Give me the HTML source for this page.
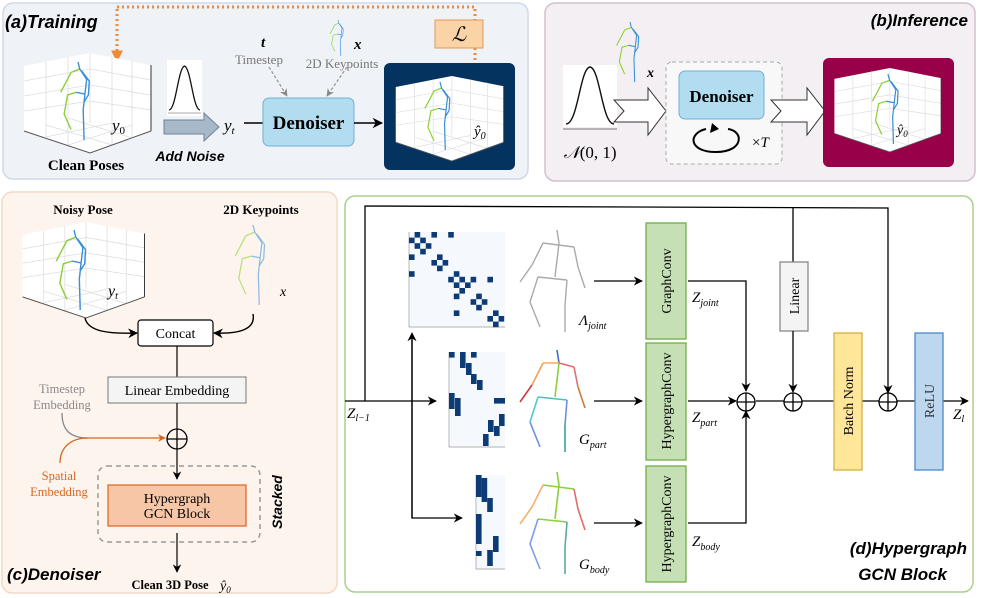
<!DOCTYPE html>
<html><head><meta charset="utf-8"><style>
body{margin:0;background:#fff}
svg{display:block}
.s{font-family:"Liberation Serif",serif}
.t{font-family:"Liberation Sans",sans-serif;font-weight:bold;font-style:italic}
</style></head><body>
<svg width="996" height="598" viewBox="0 0 996 598" xmlns="http://www.w3.org/2000/svg">
<defs>
<marker id="ab" viewBox="0 0 10 10" refX="9" refY="5" markerWidth="7" markerHeight="7" orient="auto-start-reverse"><path d="M0,0 L10,5 L0,10 L3,5z" fill="#000"/></marker>
<marker id="ag" viewBox="0 0 10 10" refX="9" refY="5" markerWidth="6" markerHeight="6" orient="auto"><path d="M0,0 L10,5 L0,10 L3,5z" fill="#888"/></marker>
<marker id="ao" viewBox="0 0 10 10" refX="9" refY="5" markerWidth="6" markerHeight="6" orient="auto"><path d="M0,0 L10,5 L0,10 L3,5z" fill="#d9661f"/></marker>
<marker id="aor" viewBox="0 0 10 10" refX="8" refY="5" markerWidth="4" markerHeight="4" orient="auto"><path d="M0,0 L10,5 L0,10z" fill="#ee8a3a"/></marker>
<symbol id="cube" viewBox="0 0 130 100" overflow="visible">
<polygon points="0,13 66,0 127,12 127,78 66,100 0,78" fill="#fff"/>
<g stroke="#ddd" stroke-width="0.8" fill="none">
<path d="M0,28 L66,16 L127,27 M0,43 L66,32 L127,42 M0,58 L66,48 L127,57 M22,9 L22,84 M44,4 L44,92 M88,4 L88,92 M108,8 L108,85 M66,0 L66,70"/>
<path d="M22,84 L88,70 M44,92 L108,72 M22,72 L88,92 M44,65 L108,85"/>
</g>
<path d="M0,78 L66,100 L127,78" fill="none" stroke="#555" stroke-width="1"/>
<path d="M127,12 L127,78" stroke="#333" stroke-width="1"/>
</symbol>
<symbol id="sk" viewBox="0 0 40 90" overflow="visible">
<path d="M22,8 L12,12 L0,35 M18,35 L8,38 L4,60 L12,78" fill="none" stroke="#8bcf3a" stroke-width="1.6"/>
<path d="M20,0 L22,8 L30,20 L28,37 L18,35 M28,37 L26,55 L27,90 M24,10 L33,22 L32,38 L27,46" fill="none" stroke="#3a8fd6" stroke-width="1.6"/>
</symbol>
<symbol id="sk2" viewBox="0 0 40 90" overflow="visible">
<path d="M22,8 L12,12 L0,35 M18,35 L8,38 L4,60 L12,78" fill="none" stroke="#b9e07a" stroke-width="1.4"/>
<path d="M20,0 L22,8 L30,20 L28,37 L18,35 M28,37 L26,55 L27,90 M24,10 L33,22 L32,38 L27,46" fill="none" stroke="#8dbbe6" stroke-width="1.4"/>
</symbol>
</defs>

<!-- Panel A -->
<rect x="3" y="3" width="525" height="176" rx="10" fill="#eff3f8" stroke="#cfd9e8" stroke-width="1.5"/>
<text x="5" y="28" class="t" font-size="18">(a)Training</text>
<path d="M117,9 L117,60" stroke="#ee8a3a" stroke-width="3" stroke-dasharray="2,3" fill="none" marker-end="url(#aor)"/>
<path d="M117,7 L475,7 L475,20" stroke="#ee8a3a" stroke-width="3" stroke-dasharray="2,3" fill="none"/>
<path d="M475,48 L475,73" stroke="#ee8a3a" stroke-width="3" stroke-dasharray="2,3" fill="none" marker-end="url(#aor)"/>
<rect x="435" y="20" width="48" height="28" fill="#fad3a6" stroke="#e09a55"/>
<text x="459" y="41" class="s" font-size="20" font-style="italic" text-anchor="middle">ℒ</text>
<use href="#cube" x="24" y="53" width="130" height="100"/>
<use href="#sk" x="58" y="62" width="40" height="78"/>
<text x="112" y="131" class="s" font-size="17" font-style="italic">y<tspan font-size="11" font-style="normal" dy="3">0</tspan></text>
<text x="86" y="170" class="s" font-size="15" font-weight="bold" text-anchor="middle">Clean Poses</text>
<rect x="167" y="60" width="35" height="56" fill="#fff"/>
<path d="M169,110 C176,110 178,68 184.5,66 C191,68 193,110 200,110" fill="none" stroke="#111" stroke-width="1.3"/>
<line x1="168" y1="113" x2="201" y2="113" stroke="#aaa"/>
<polygon points="164,120 204,120 204,113 219,127 204,141 204,134 164,134" fill="#a7b8c9" stroke="#6f8296"/>
<text x="190" y="161" class="t" font-size="14" text-anchor="middle">Add Noise</text>
<text x="224" y="131" class="s" font-size="17" font-style="italic">y<tspan font-size="11" dy="3">t</tspan></text>
<line x1="244" y1="123" x2="263" y2="123" stroke="#000" stroke-width="1.5"/>
<rect x="263" y="98" width="91" height="48" rx="6" fill="#b2dcf0" stroke="#6fb0d6"/>
<text x="308.5" y="129" class="s" font-size="19" font-weight="bold" text-anchor="middle">Denoiser</text>
<line x1="354" y1="123" x2="382" y2="123" stroke="#000" stroke-width="1.5" marker-end="url(#ab)"/>
<text x="261" y="47" class="s" font-size="15" font-style="italic" font-weight="bold">t</text>
<text x="259" y="64" class="s" font-size="13" fill="#777" text-anchor="middle">Timestep</text>
<use href="#sk" x="328" y="20" width="20" height="36"/>
<text x="354" y="49" class="s" font-size="15" font-style="italic" font-weight="bold">x</text>
<text x="342" y="68" class="s" font-size="13" fill="#777" text-anchor="middle">2D Keypoints</text>
<line x1="269" y1="67" x2="287" y2="96" stroke="#999" stroke-width="1.3" stroke-dasharray="3,2" marker-end="url(#ag)"/>
<line x1="347" y1="67" x2="327" y2="96" stroke="#999" stroke-width="1.3" stroke-dasharray="3,2" marker-end="url(#ag)"/>
<rect x="384" y="63" width="131" height="107" rx="6" fill="#05335f"/>
<use href="#cube" x="392" y="76" width="118" height="85"/>
<use href="#sk" x="422" y="82" width="36" height="68"/>
<text x="474" y="136" class="s" font-size="15" font-style="italic">ŷ<tspan font-size="10" dy="3">0</tspan></text>

<!-- Panel B -->
<rect x="545" y="3" width="430" height="178" rx="10" fill="#f4eff2" stroke="#d2bfd0" stroke-width="1.5"/>
<text x="968" y="26" class="t" font-size="17" text-anchor="end">(b)Inference</text>
<rect x="563" y="65" width="54" height="62" fill="#fff"/>
<path d="M566,124 C578,124 580,68 590,67 C600,68 602,124 614,124" fill="none" stroke="#111" stroke-width="1.4"/>
<line x1="563" y1="129" x2="617" y2="129" stroke="#777"/>
<text x="590" y="158" class="s" font-size="17" text-anchor="middle"><tspan font-style="italic">𝒩</tspan>(0, 1)</text>
<use href="#sk" x="613" y="22" width="34" height="60"/>
<text x="647" y="77" class="s" font-size="14" font-style="italic" font-weight="bold">x</text>
<polygon points="614,100 648,100 648,88 666,111 648,135 648,122 614,122 624,111" fill="#fff" stroke="#333"/>
<rect x="666" y="62" width="116" height="102" rx="6" fill="#f8f8f8" stroke="#aaa" stroke-dasharray="4,3"/>
<rect x="679" y="71" width="85" height="48" rx="6" fill="#b2dcf0" stroke="#6fb0d6"/>
<text x="721.5" y="102" class="s" font-size="17" font-weight="bold" text-anchor="middle">Denoiser</text>
<path d="M706,129 C688,133 688,152 716,152 C744,152 744,131 728,129" fill="none" stroke="#000" stroke-width="2"/>
<path d="M712,123 L719,129 L710,133z" fill="#000"/>
<text x="752" y="147" class="s" font-size="15">×<tspan font-style="italic">T</tspan></text>
<polygon points="771,100 807,100 807,88 825,111 807,135 807,122 771,122 781,111" fill="#fff" stroke="#333"/>
<rect x="823" y="58" width="131" height="109" rx="6" fill="#99004a"/>
<use href="#cube" x="829" y="68" width="120" height="84"/>
<use href="#sk" x="870" y="74" width="36" height="70"/>
<text x="897" y="134" class="s" font-size="14" font-style="italic">ŷ<tspan font-size="9" dy="3">0</tspan></text>

<!-- Panel C -->
<rect x="2" y="192" width="335" height="401" rx="10" fill="#fdf4ee" stroke="#f3d9c6" stroke-width="1.5"/>
<text x="83" y="214" class="s" font-size="13" font-weight="bold" text-anchor="middle">Noisy Pose</text>
<text x="261" y="214" class="s" font-size="13" font-weight="bold" text-anchor="middle">2D Keypoints</text>
<use href="#cube" x="22" y="222" width="126" height="96"/>
<use href="#sk" x="54" y="230" width="40" height="80"/>
<text x="108" y="296" class="s" font-size="16" font-style="italic">y<tspan font-size="10" dy="3">t</tspan></text>
<use href="#sk2" x="231" y="225" width="44" height="80"/>
<text x="280" y="296" class="s" font-size="14" font-style="italic">x</text>
<path d="M85,318 C88,332 110,334 137,333" fill="none" stroke="#000" stroke-width="1.4" marker-end="url(#ab)"/>
<path d="M253,314 C256,330 238,334 214,333" fill="none" stroke="#000" stroke-width="1.4" marker-end="url(#ab)"/>
<rect x="138" y="320" width="75" height="26" rx="3" fill="#fff" stroke="#000" stroke-width="1.2"/>
<text x="175.5" y="338" class="s" font-size="14" text-anchor="middle">Concat</text>
<line x1="177" y1="346" x2="177" y2="377" stroke="#000" stroke-width="1.2"/>
<rect x="108" y="377" width="138" height="26" fill="#f4f4f4" stroke="#777"/>
<text x="177" y="395" class="s" font-size="14" text-anchor="middle">Linear Embedding</text>
<line x1="177" y1="403" x2="177" y2="429" stroke="#000" stroke-width="1.2"/>
<circle cx="177" cy="439" r="10" fill="none" stroke="#000" stroke-width="1.3"/>
<path d="M167,439 H187 M177,429 V449" stroke="#000" stroke-width="1.3"/>
<text x="62" y="393" class="s" font-size="12.5" fill="#888" text-anchor="middle">Timestep</text>
<text x="62" y="409" class="s" font-size="12.5" fill="#888" text-anchor="middle">Embedding</text>
<path d="M62,413 C62,430 70,438 88,438" fill="none" stroke="#888" stroke-width="1.3"/>
<path d="M60,463 C60,448 70,438 88,438 L165,438" fill="none" stroke="#d9661f" stroke-width="1.3" marker-end="url(#ao)"/>
<text x="59" y="480" class="s" font-size="12.5" fill="#d9661f" text-anchor="middle">Spatial</text>
<text x="59" y="496" class="s" font-size="12.5" fill="#d9661f" text-anchor="middle">Embedding</text>
<rect x="98" y="466" width="162" height="76" rx="9" fill="none" stroke="#999" stroke-width="1.5" stroke-dasharray="5,4"/>
<line x1="177" y1="449" x2="177" y2="479" stroke="#000" stroke-width="1.2" marker-end="url(#ab)"/>
<rect x="108" y="485" width="138" height="41" fill="#f7c6a6" stroke="#d9661f" stroke-width="1.2"/>
<text x="177" y="503" class="s" font-size="14" text-anchor="middle">Hypergraph</text>
<text x="177" y="518" class="s" font-size="14" text-anchor="middle">GCN Block</text>
<text transform="translate(282,502) rotate(-90)" class="t" font-size="14" text-anchor="middle">Stacked</text>
<line x1="177" y1="533" x2="177" y2="572" stroke="#000" stroke-width="1.2" marker-end="url(#ab)"/>
<text x="7" y="580" class="t" font-size="17">(c)Denoiser</text>
<text x="170" y="589" class="s" font-size="12.5" font-weight="bold" text-anchor="middle">Clean 3D Pose</text>
<text x="220" y="590" class="s" font-size="14" font-style="italic">ŷ<tspan font-size="9" dy="3">0</tspan></text>

<!-- Panel D -->
<rect x="345" y="196" width="628" height="396" rx="10" fill="#fff" stroke="#a9d18e" stroke-width="1.5"/>
<path d="M365,401 V206 L888,208 V393" fill="none" stroke="#000" stroke-width="1.3" marker-end="url(#ab)"/>
<line x1="345" y1="401" x2="436" y2="401" stroke="#000" stroke-width="1.3" marker-end="url(#ab)"/>
<path d="M412,340 V518 H462" fill="none" stroke="#000" stroke-width="1.3" marker-end="url(#ab)"/>
<path d="M412,518 V333" fill="none" stroke="#000" stroke-width="1.3" marker-end="url(#ab)"/>
<text x="347" y="418" class="s" font-size="15" font-style="italic">Z<tspan font-size="10" dy="3">l−1</tspan></text>
<!-- matrices -->
<g>
<rect x="409" y="232" width="96" height="95" fill="#f5f9fe"/>
<path d="M409,232 V327 H505" fill="none" stroke="#999" stroke-width="0.7"/>
<g fill="#0c3b75">
<rect x="414.6" y="232" width="5.6" height="5.6"/><rect x="431.4" y="232" width="5.6" height="5.6"/><rect x="448.2" y="232" width="5.6" height="5.6"/>
<rect x="409" y="237.6" width="5.6" height="5.6"/><rect x="420.2" y="237.6" width="5.6" height="5.6"/>
<rect x="414.6" y="243.2" width="5.6" height="5.6"/><rect x="425.8" y="243.2" width="5.6" height="5.6"/>
<rect x="420.2" y="248.8" width="5.6" height="5.6"/>
<rect x="409" y="254.4" width="5.6" height="5.6"/><rect x="437" y="254.4" width="5.6" height="5.6"/>
<rect x="431.4" y="260" width="5.6" height="5.6"/><rect x="442.6" y="260" width="5.6" height="5.6"/>
<rect x="437" y="265.6" width="5.6" height="5.6"/>
<rect x="409" y="271.2" width="5.6" height="5.6"/><rect x="453.8" y="271.2" width="5.6" height="5.6"/>
<rect x="448.2" y="276.8" width="5.6" height="5.6"/><rect x="459.4" y="276.8" width="5.6" height="5.6"/><rect x="470.6" y="276.8" width="5.6" height="5.6"/><rect x="487.4" y="276.8" width="5.6" height="5.6"/>
<rect x="453.8" y="282.4" width="5.6" height="5.6"/><rect x="465" y="282.4" width="5.6" height="5.6"/>
<rect x="459.4" y="288" width="5.6" height="5.6"/>
<rect x="453.8" y="293.6" width="5.6" height="5.6"/><rect x="476.2" y="293.6" width="5.6" height="5.6"/>
<rect x="470.6" y="299.2" width="5.6" height="5.6"/><rect x="481.8" y="299.2" width="5.6" height="5.6"/>
<rect x="476.2" y="304.8" width="5.6" height="5.6"/>
<rect x="453.8" y="310.4" width="5.6" height="5.6"/><rect x="493" y="310.4" width="5.6" height="5.6"/>
<rect x="487.4" y="316" width="5.6" height="5.6"/><rect x="498.6" y="316" width="5.6" height="5.6"/>
<rect x="493" y="321.6" width="5.6" height="5.6"/>
</g>
<rect x="449" y="352" width="56" height="95" fill="#f5f9fe"/>
<path d="M449,352 V447 H505" fill="none" stroke="#999" stroke-width="0.7"/>
<g fill="#0c3b75">
<rect x="449" y="352" width="5.6" height="5.6"/><rect x="460" y="352" width="5.6" height="16"/><rect x="471" y="352" width="5.6" height="5.6"/>
<rect x="466" y="363" width="5.6" height="12"/><rect x="471" y="374" width="5.6" height="10"/><rect x="477" y="380" width="5.6" height="10"/>
<rect x="449" y="393" width="5.6" height="16"/><rect x="455" y="398" width="5.6" height="18"/><rect x="494" y="398" width="11" height="5.6"/>
<rect x="499" y="414" width="5.6" height="12"/><rect x="488" y="420" width="5.6" height="12"/><rect x="494" y="426" width="5.6" height="10"/><rect x="483" y="434" width="5.6" height="12"/>
</g>
<rect x="476" y="475" width="29" height="94" fill="#f5f9fe"/>
<path d="M476,475 V569 H505" fill="none" stroke="#999" stroke-width="0.7"/>
<g fill="#0c3b75">
<rect x="476" y="475" width="5.6" height="22"/><rect x="481.6" y="478" width="5.6" height="24"/><rect x="487.2" y="498" width="5.6" height="14"/>
<rect x="476" y="514" width="5.6" height="30"/><rect x="493" y="536" width="5.6" height="16"/><rect x="476" y="551" width="5.6" height="5"/><rect x="487.2" y="550" width="5.6" height="16"/>
</g>
</g>
<!-- skeletons -->
<g transform="translate(519,230)" fill="none" stroke="#aaa" stroke-width="1.4">
<path d="M38,0 L40,13 L36,47 M24,13 L55,17 M24,13 L13,35 L1,52 M55,17 L59,37 L66,58 M19,47 L48,50 M19,47 L11,72 L21,97 M48,50 L46,75 L46,102"/>
</g>
<g transform="translate(519,350)" fill="none" stroke-width="1.6">
<path d="M38,0 L40,13" stroke="#3a6fd0"/><path d="M40,13 L36,47" stroke="#8bcf3a"/>
<path d="M24,13 L40,13" stroke="#f3b070"/><path d="M40,13 L55,17" stroke="#e26a6a"/>
<path d="M24,13 L13,35" stroke="#f3a050"/><path d="M13,35 L1,52" stroke="#c04040"/>
<path d="M55,17 L59,37" stroke="#e07070"/><path d="M59,37 L66,58" stroke="#c08040"/>
<path d="M19,47 L48,50" stroke="#4ac0c0"/><path d="M19,47 L11,72" stroke="#50c8c8"/><path d="M11,72 L21,97" stroke="#6a90e0"/>
<path d="M48,50 L46,75" stroke="#6a90e0"/><path d="M46,75 L46,102" stroke="#3aa0a0"/>
</g>
<g transform="translate(519,472)" fill="none" stroke-width="1.6">
<path d="M38,0 L40,13 L36,47 M24,13 L55,17 M19,47 L48,50" stroke="#8bcf3a"/>
<path d="M24,13 L13,35 L1,52" stroke="#f3b070"/><path d="M55,17 L59,37 L66,58" stroke="#e26a6a"/>
<path d="M19,47 L11,72 L21,97" stroke="#7aa0e8"/><path d="M48,50 L46,75 L46,102" stroke="#5aaaa0"/>
</g>
<text x="579" y="325" class="s" font-size="15" font-style="italic">Λ<tspan font-size="10" dy="4">joint</tspan></text>
<text x="579" y="444" class="s" font-size="15" font-style="italic">G<tspan font-size="10" dy="4">part</tspan></text>
<text x="579" y="569" class="s" font-size="15" font-style="italic">G<tspan font-size="10" dy="4">body</tspan></text>
<line x1="594" y1="281" x2="642" y2="281" stroke="#000" stroke-width="1.3" marker-end="url(#ab)"/>
<line x1="594" y1="401" x2="642" y2="401" stroke="#000" stroke-width="1.3" marker-end="url(#ab)"/>
<line x1="594" y1="523" x2="642" y2="523" stroke="#000" stroke-width="1.3" marker-end="url(#ab)"/>
<g fill="#c5e0b4" stroke="#70ad47" stroke-width="1.3">
<rect x="646" y="223" width="40" height="116"/><rect x="646" y="343" width="40" height="117"/><rect x="646" y="466" width="40" height="116"/>
</g>
<g class="s" font-size="14" text-anchor="middle">
<text transform="translate(671,281) rotate(-90)">GraphConv</text>
<text transform="translate(671,401) rotate(-90)">HypergraphConv</text>
<text transform="translate(671,524) rotate(-90)">HypergraphConv</text>
</g>
<path d="M688,281 H746 V391" fill="none" stroke="#000" stroke-width="1.3" marker-end="url(#ab)"/>
<line x1="688" y1="401" x2="736" y2="401" stroke="#000" stroke-width="1.3" marker-end="url(#ab)"/>
<path d="M688,523 H746 V411" fill="none" stroke="#000" stroke-width="1.3" marker-end="url(#ab)"/>
<text x="692" y="302" class="s" font-size="15" font-style="italic">Z<tspan font-size="10" dy="4">joint</tspan></text>
<text x="692" y="422" class="s" font-size="15" font-style="italic">Z<tspan font-size="10" dy="4">part</tspan></text>
<text x="692" y="546" class="s" font-size="15" font-style="italic">Z<tspan font-size="10" dy="4">body</tspan></text>
<line x1="756" y1="401" x2="968" y2="401" stroke="#000" stroke-width="1.3" marker-end="url(#ab)"/>
<line x1="793" y1="208" x2="793" y2="262" stroke="#000" stroke-width="1.3"/>
<rect x="780" y="262" width="28" height="69" fill="#f4f4f4" stroke="#888" stroke-width="1.3"/>
<text transform="translate(799,296) rotate(-90)" class="s" font-size="14" text-anchor="middle">Linear</text>
<line x1="793" y1="331" x2="793" y2="392" stroke="#000" stroke-width="1.3" marker-end="url(#ab)"/>
<g fill="#fff" stroke="#000" stroke-width="1.3">
<circle cx="746" cy="402" r="9"/><circle cx="793" cy="402" r="9"/><circle cx="888" cy="402" r="9"/>
</g>
<path d="M737,402 H755 M746,393 V411 M784,402 H802 M793,393 V411 M879,402 H897 M888,393 V411" stroke="#000" stroke-width="1.3"/>
<rect x="834" y="333" width="28" height="137" fill="#ffe699" stroke="#d6b040" stroke-width="1.3"/>
<text transform="translate(853,401) rotate(-90)" class="s" font-size="14" text-anchor="middle">Batch Norm</text>
<rect x="915" y="333" width="28" height="137" fill="#bdd7ee" stroke="#4a88c8" stroke-width="1.3"/>
<text transform="translate(934,401) rotate(-90)" class="s" font-size="14" text-anchor="middle" fill="#333">ReLU</text>
<text x="953" y="419" class="s" font-size="15" font-style="italic">Z<tspan font-size="10" dy="3">l</tspan></text>
<text x="967" y="554" class="t" font-size="17" text-anchor="end">(d)Hypergraph</text>
<text x="947" y="580" class="t" font-size="17" text-anchor="end">GCN Block</text>
</svg>
</body></html>
